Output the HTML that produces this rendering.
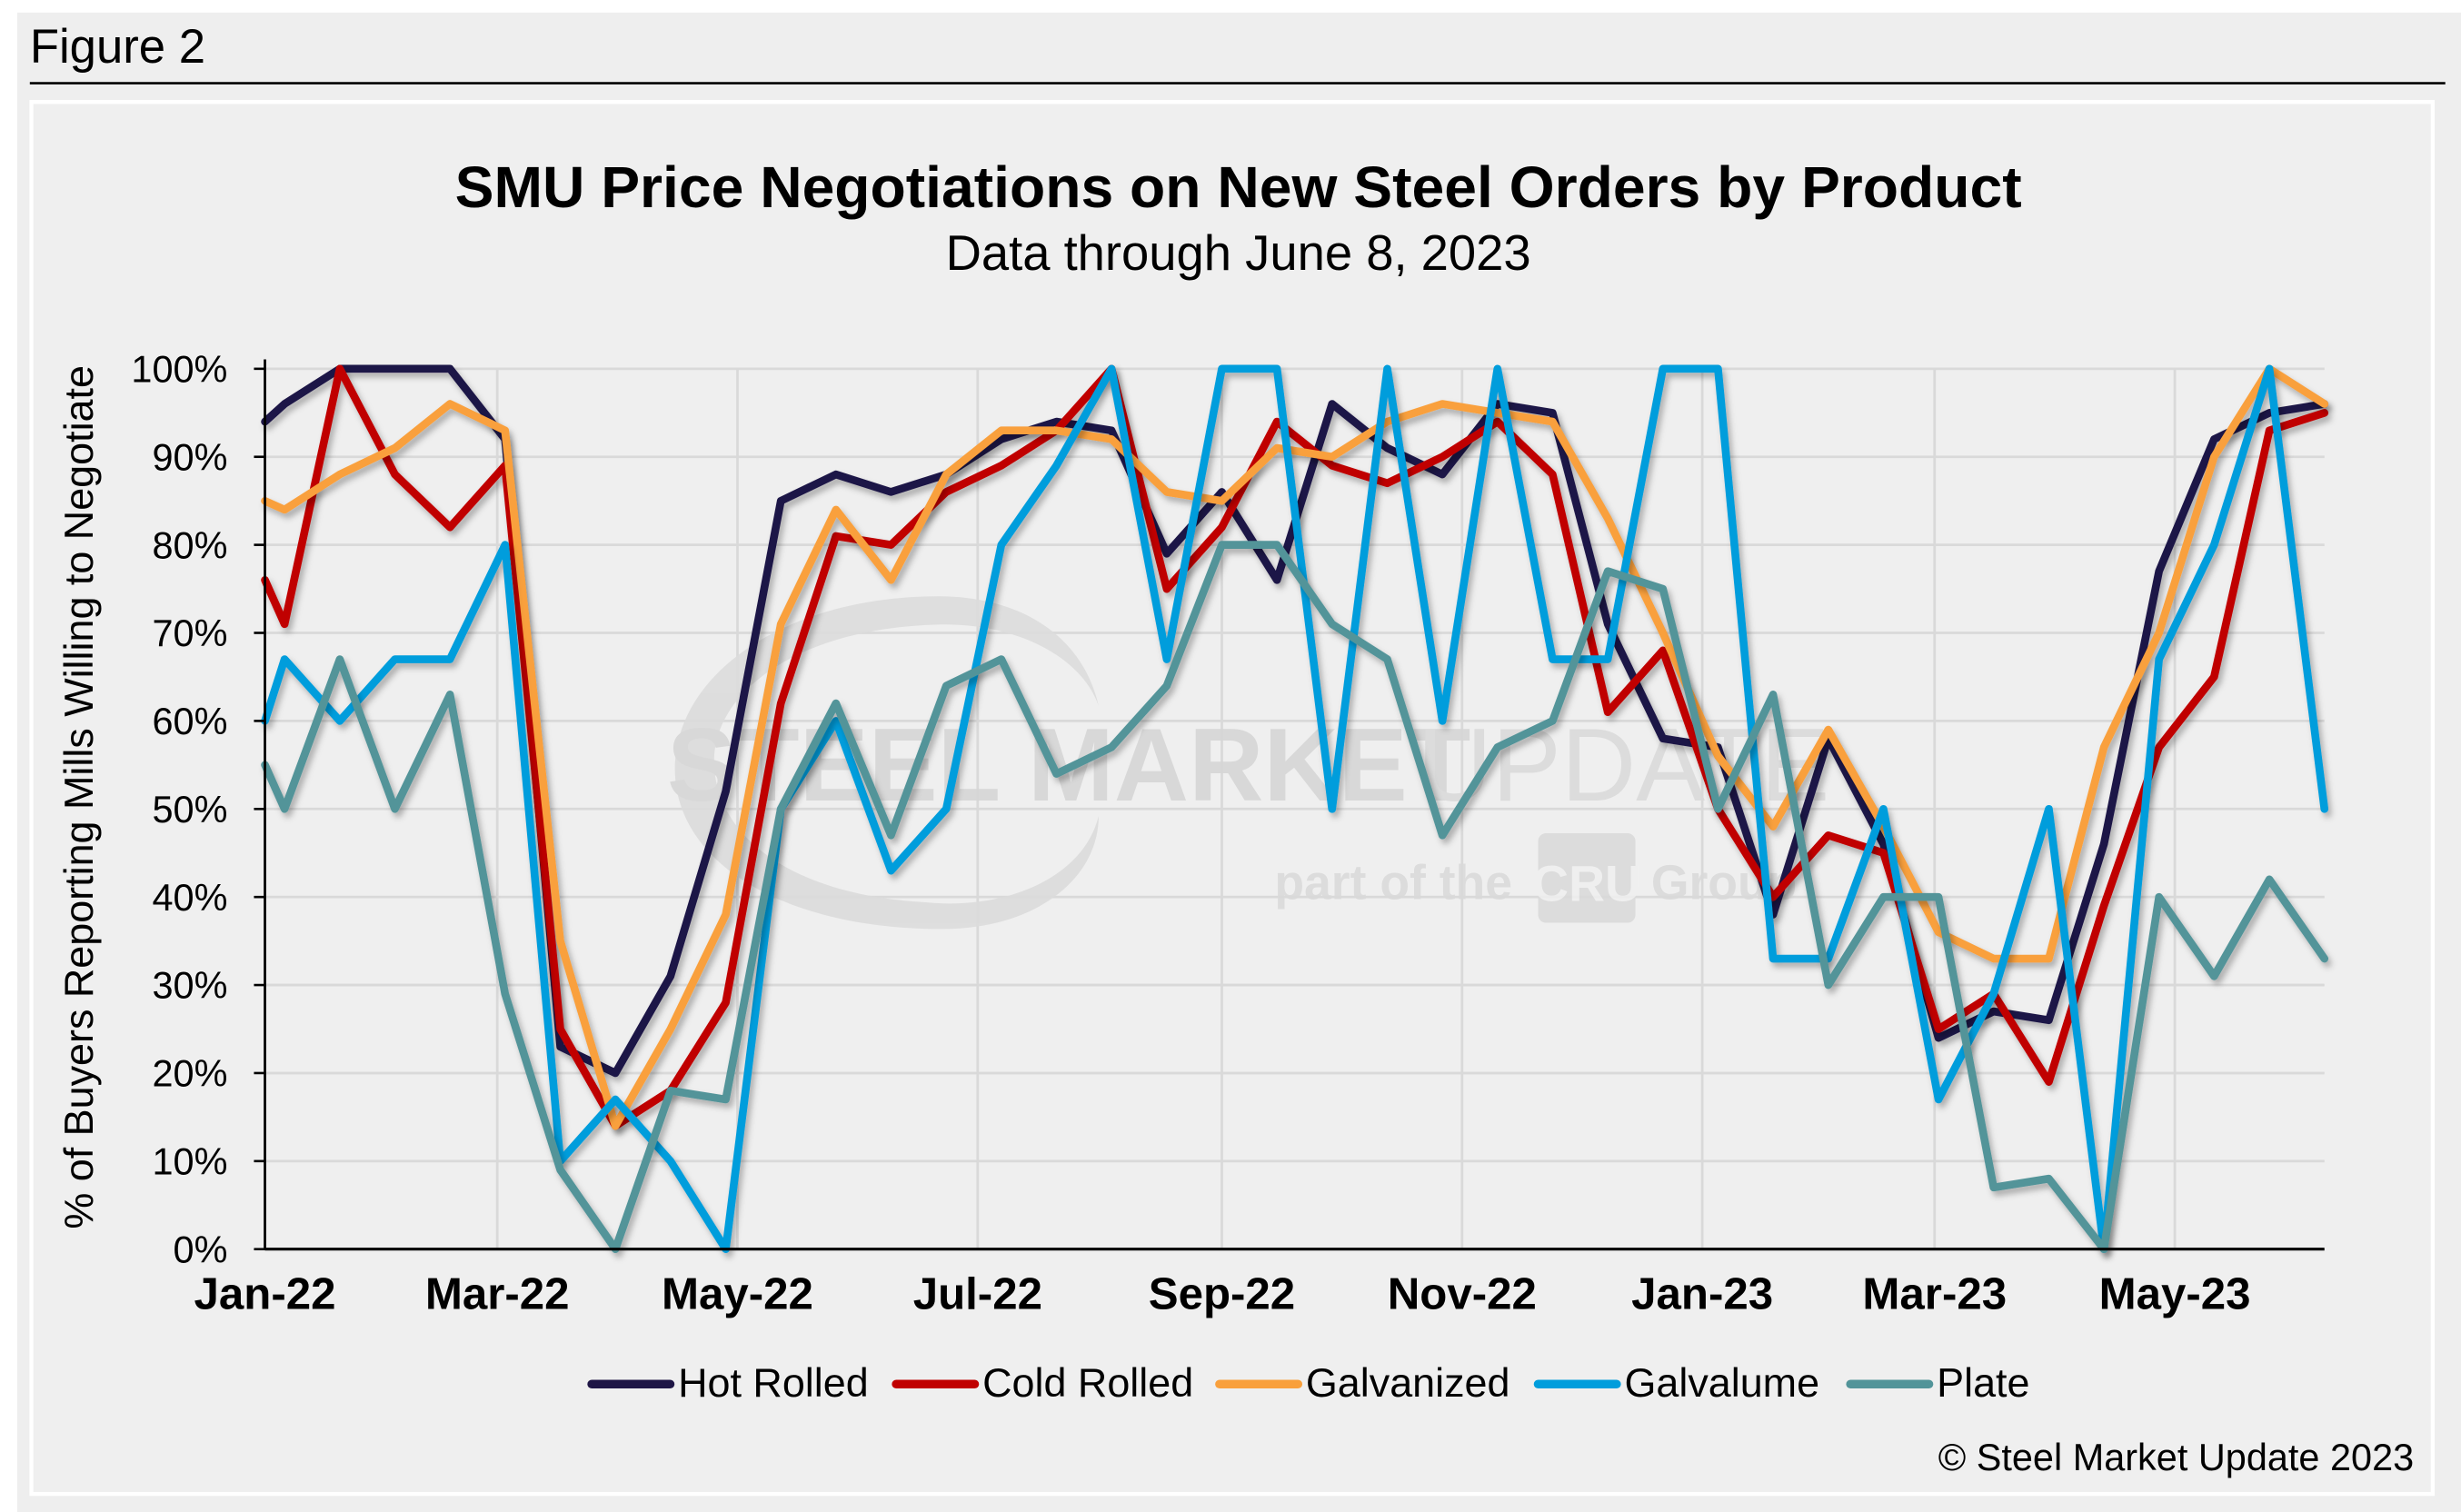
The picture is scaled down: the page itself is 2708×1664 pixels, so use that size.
<!DOCTYPE html>
<html><head><meta charset="utf-8"><style>
html,body{margin:0;padding:0;background:#fff;}
svg{display:block;}
text{font-family:"Liberation Sans",Arial,sans-serif;}
</style></head><body>
<svg id="chart" width="2708" height="1664" viewBox="0 0 1568 963.5" xmlns="http://www.w3.org/2000/svg">
<defs>
<filter id="sh" x="-5%" y="-5%" width="110%" height="115%"><feDropShadow dx="2" dy="3" stdDeviation="2" flood-color="#000" flood-opacity="0.28"/></filter>
</defs>
<rect x="11" y="8" width="1557" height="956" fill="#eeeeee"/>
<text x="19" y="40" font-size="30.5" fill="#000">Figure 2</text>
<line x1="19" y1="53" x2="1558" y2="53" stroke="#000" stroke-width="1.5"/>
<rect x="20" y="65" width="1530" height="887" fill="#efefef" stroke="#fff" stroke-width="2.5"/>
<text x="789" y="132" font-size="37.2" font-weight="bold" text-anchor="middle">SMU Price Negotiations on New Steel Orders by Product</text>
<text x="789" y="172" font-size="31.5" text-anchor="middle">Data through June 8, 2023</text>
<g id="grid"></g>
<g id="watermark" opacity="0.9">
<path d="M598,380 C500,380 430,430 430,490 C430,550 500,592 600,592 C660,592 700,560 700,520 C690,560 640,580 590,575 C500,570 455,530 455,485 C455,440 510,400 598,398 C650,397 690,420 700,450 C690,405 650,380 598,380 Z" fill="#dcdcdc"/>
<text x="425" y="510" font-size="66" font-weight="bold" fill="#d6d6d6">STEEL MARKET</text>
<text x="903" y="510" font-size="66" fill="#dadada">UPDATE</text>
<text x="812" y="573" font-size="31" font-weight="bold" fill="#dadada">part of the</text>
<rect x="980" y="531" width="62" height="57" rx="5" fill="#dadada"/>
<text x="1011" y="574" font-size="32" font-weight="bold" fill="#efefef" text-anchor="middle">CRU</text>
<text x="1052" y="573" font-size="31" font-weight="bold" fill="#dadada">Group</text>
</g>
<g id="series"></g>
<g id="axes"></g>
<text transform="translate(59,508) rotate(-90)" font-size="26" text-anchor="middle">% of Buyers Reporting Mills Willing to Negotiate</text>
<g id="legend"></g>
<text x="1538" y="937" font-size="24" text-anchor="end">© Steel Market Update 2023</text>
</svg>
<script>
const dates = ["2022-01-01","2022-01-06","2022-01-20","2022-02-03","2022-02-17","2022-03-03","2022-03-17","2022-03-31","2022-04-14","2022-04-28","2022-05-12","2022-05-26","2022-06-09","2022-06-23","2022-07-07","2022-07-21","2022-08-04","2022-08-18","2022-09-01","2022-09-15","2022-09-29","2022-10-13","2022-10-27","2022-11-10","2022-11-24","2022-12-08","2022-12-22","2023-01-05","2023-01-19","2023-02-02","2023-02-16","2023-03-02","2023-03-16","2023-03-30","2023-04-13","2023-04-27","2023-05-11","2023-05-25","2023-06-08"];
const hotRolled = [94,96,100,100,100,92,23,20,31,52,85,88,86,88,92,94,93,79,86,76,96,91,88,96,95,71,58,57,38,58,46,24,27,26,46,77,92,95,96];
const coldRolled = [76,71,100,88,82,89,25,14,18,28,62,81,80,86,89,93,100,75,82,94,89,87,90,94,88,61,68,50,40,47,45,25,29,19,39,57,65,93,95];
const galvanized = [85,84,88,91,96,93,35,14,25,38,71,84,76,88,93,93,92,86,85,91,90,94,96,95,94,83,70,56,48,59,48,36,33,33,57,70,90,100,96];
const galvalume = [60,67,60,67,67,80,10,17,10,0,50,60,43,50,80,89,100,67,100,100,50,100,60,100,67,67,100,100,33,33,50,17,29,50,0,67,80,100,50];
const plate = [55,50,67,50,63,29,9,0,18,17,50,62,47,64,67,54,57,64,80,80,71,67,47,57,60,77,75,50,63,30,40,40,7,8,0,40,31,42,33];
const seriesNames = ["Hot Rolled","Cold Rolled","Galvanized","Galvalume","Plate"];
const seriesColors = ["#1f1646","#c00000","#f9a03c","#009ddc","#529499"];
const yTicks = [0,10,20,30,40,50,60,70,80,90,100];
const xTickDates = ["2022-01-01","2022-03-01","2022-05-01","2022-07-01","2022-09-01","2022-11-01","2023-01-01","2023-03-01","2023-05-01"];
const xTickLabels = ["Jan-22","Mar-22","May-22","Jul-22","Sep-22","Nov-22","Jan-23","Mar-23","May-23"];

const NS = "http://www.w3.org/2000/svg";
const X0 = 168.8, X1 = 1481, Y0 = 796, Y1 = 235;
const dMin = Date.parse("2022-01-01"), dMax = Date.parse("2023-06-08");
function xs(d){ return X0 + (Date.parse(d) - dMin) / (dMax - dMin) * (X1 - X0); }
function ys(v){ return Y0 - v / 100 * (Y0 - Y1); }
function mk(tag, attrs, parent){ const e = document.createElementNS(NS, tag); for (const k in attrs) e.setAttribute(k, attrs[k]); parent.appendChild(e); return e; }

const grid = document.getElementById("grid");
const axes = document.getElementById("axes");
yTicks.forEach(t => {
  const y = ys(t);
  if (t > 0) {
    const g = mk("line", {x1: X0, x2: X1, y1: y, y2: y, stroke: "#d9d9d9", "stroke-width": 1.6}, grid);
    
    
  }
  const tk = mk("line", {x1: X0 - 7, x2: X0, y1: y, y2: y, stroke: "#000", "stroke-width": 1.5}, axes);
  
  
  const lb = mk("text", {x: 145, y: y + 8.5, "font-size": 24, "text-anchor": "end"}, axes);
  lb.textContent = t + "%";
  
  
});
xTickDates.forEach((d, i) => {
  const x = xs(d);
  if (i > 0) {
    const g = mk("line", {x1: x, x2: x, y1: Y1, y2: Y0, stroke: "#d9d9d9", "stroke-width": 1.6}, grid);
    
    
  }
  const lb = mk("text", {x: x, y: 834, "font-size": 28.5, "font-weight": "bold", "text-anchor": "middle"}, axes);
  lb.textContent = xTickLabels[i];
  
  
});
const ya = mk("line", {x1: X0, x2: X0, y1: Y1 - 6, y2: Y0, stroke: "#000", "stroke-width": 1.6}, axes);


const xa = mk("line", {x1: X0, x2: X1, y1: Y0, y2: Y0, stroke: "#000", "stroke-width": 1.8}, axes);



const allSeries = [hotRolled, coldRolled, galvanized, galvalume, plate];
const sg = document.getElementById("series");
allSeries.forEach((vals, s) => {
  const pts = vals.map((v, i) => xs(dates[i]).toFixed(1) + "," + ys(v).toFixed(1)).join(" ");
  const pl = mk("polyline", {points: pts, fill: "none", stroke: seriesColors[s], "stroke-width": 5, "stroke-linejoin": "round", "stroke-linecap": "round", filter: "url(#sh)"}, sg);
  
  
});

const legendX = [375, 569, 775, 978, 1177];
const lg = document.getElementById("legend");
seriesNames.forEach((n, s) => {
  const g = mk("g", {}, lg);
  
  
  const sw = mk("line", {x1: legendX[s] + 2, x2: legendX[s] + 52, y1: 882, y2: 882, stroke: seriesColors[s], "stroke-width": 5.5, "stroke-linecap": "round"}, g);
  
  
  const t = mk("text", {x: legendX[s] + 57, y: 890, "font-size": 26}, g);
  t.textContent = n;
  
  
});
</script>
</body></html>
